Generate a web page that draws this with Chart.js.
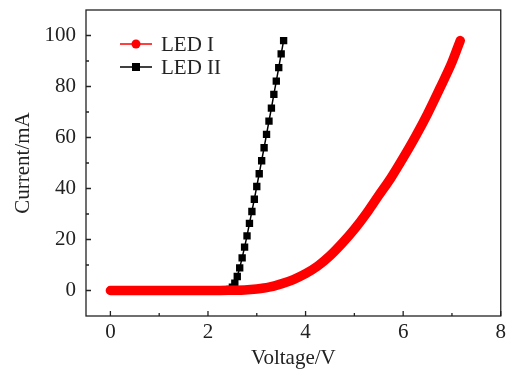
<!DOCTYPE html>
<html>
<head>
<meta charset="utf-8">
<script src="https://cdn.jsdelivr.net/npm/chart.js@4"></script>
<style>
  body { margin: 0; background: #fff; }
  canvas { display: block; }
</style>
</head>
<body>
<canvas id="ivChart" width="510" height="374"></canvas>
<script>
// LED I: tensão (V) e corrente (mA)
const led1Voltage = [0, 0.25, 0.5, 0.75, 1, 1.25, 1.5, 1.75, 2, 2.25, 2.5, 2.75, 3, 3.25, 3.5, 3.75,
  4, 4.25, 4.5, 4.75, 5, 5.25, 5.5, 5.75, 6, 6.25, 6.5, 6.75, 7, 7.17];
const led1Current = [0, 0, 0, 0, 0, 0, 0, 0, 0, 0, 0.1, 0.2, 0.6, 1.3, 2.6, 4.3,
  6.6, 9.6, 13.6, 18.5, 24.0, 30.3, 37.3, 44.2, 52, 60.3, 69.3, 79.2, 89.5, 98];

// LED II
const led2Voltage = [2.40, 2.45, 2.50, 2.55, 2.60, 2.65, 2.70, 2.75, 2.80, 2.85, 2.90, 2.95, 3.00,
  3.05, 3.10, 3.15, 3.20, 3.25, 3.30, 3.35, 3.40, 3.45, 3.50, 3.55];
const led2Current = [0, 0.4, 1.3, 2.9, 5.5, 8.9, 12.8, 17.0, 21.4, 26.3, 31.0, 35.8, 40.8,
  45.8, 50.9, 56.0, 61.2, 66.4, 71.5, 76.9, 82.1, 87.4, 92.8, 98.0];

const xTicks = [0, 2, 4, 6, 8];
const xMinorTicks = [1, 3, 5, 7];
const yTicks = [0, 20, 40, 60, 80, 100];
const yMinorTicks = [10, 30, 50, 70, 90];

const seriesNames = ['LED I', 'LED II'];

const fontFamily = '"Liberation Serif", "DejaVu Serif", serif';
const fontSize = 21;
const textColor = '#222';

function toPoints(xs, ys) {
  return xs.map((x, i) => ({ x: x, y: ys[i] }));
}

// moldura + ticks para dentro
const framePlugin = {
  id: 'frame',
  afterDraw(chart) {
    const ctx = chart.ctx;
    const a = chart.chartArea;
    const xs = chart.scales.x, ys = chart.scales.y;
    ctx.save();
    ctx.strokeStyle = '#222';
    ctx.lineWidth = 1.3;
    ctx.strokeRect(a.left, a.top, a.right - a.left, a.bottom - a.top);
    ctx.beginPath();
    xTicks.forEach(v => { const p = xs.getPixelForValue(v); ctx.moveTo(p, a.bottom); ctx.lineTo(p, a.bottom - 5); });
    xMinorTicks.forEach(v => { const p = xs.getPixelForValue(v); ctx.moveTo(p, a.bottom); ctx.lineTo(p, a.bottom - 3); });
    yTicks.forEach(v => { const p = ys.getPixelForValue(v); ctx.moveTo(a.left, p); ctx.lineTo(a.left + 5, p); });
    yMinorTicks.forEach(v => { const p = ys.getPixelForValue(v); ctx.moveTo(a.left, p); ctx.lineTo(a.left + 3, p); });
    ctx.stroke();
    ctx.restore();
  }
};

// legenda: linha + marcador + texto
const legendPlugin = {
  id: 'ivLegend',
  afterDraw(chart) {
    const ctx = chart.ctx;
    ctx.save();
    ctx.font = fontSize + 'px ' + fontFamily;
    ctx.textBaseline = 'middle';

    let y = 44;
    ctx.strokeStyle = '#ff0000';
    ctx.lineWidth = 1.5;
    ctx.beginPath(); ctx.moveTo(120, y); ctx.lineTo(152, y); ctx.stroke();
    ctx.fillStyle = '#ff0000';
    ctx.beginPath(); ctx.arc(136, y, 4.5, 0, Math.PI * 2); ctx.fill();
    ctx.fillStyle = textColor;
    ctx.fillText(seriesNames[0], 161, y + 1);

    y = 67;
    ctx.strokeStyle = '#000';
    ctx.beginPath(); ctx.moveTo(120, y); ctx.lineTo(152, y); ctx.stroke();
    ctx.fillStyle = '#000';
    ctx.fillRect(132, y - 4, 8, 8);
    ctx.fillStyle = textColor;
    ctx.fillText(seriesNames[1], 161, y + 1);
    ctx.restore();
  }
};

const ctx = document.getElementById('ivChart').getContext('2d');
const ivChart = new Chart(ctx, {
  type: 'line',
  data: {
    datasets: [{
      label: seriesNames[0],
      data: toPoints(led1Voltage, led1Current),
      borderColor: '#ff0000',
      backgroundColor: '#ff0000',
      borderWidth: 9.5,
      borderCapStyle: 'round',
      borderJoinStyle: 'round',
      cubicInterpolationMode: 'monotone',
      pointRadius: 0,
      fill: false
    }, {
      label: seriesNames[1],
      data: toPoints(led2Voltage, led2Current),
      borderColor: '#000',
      backgroundColor: '#000',
      borderWidth: 1.5,
      pointStyle: 'rect',
      pointRadius: 5.2,
      pointBorderWidth: 0,
      tension: 0,
      fill: false
    }]
  },
  options: {
    responsive: false,
    animation: false,
    devicePixelRatio: 1,
    layout: { padding: { left: 0, right: 9, top: 10, bottom: 0 } },
    plugins: {
      legend: { display: false },
      tooltip: { enabled: false }
    },
    scales: {
      x: {
        type: 'linear',
        min: -0.5,
        max: 8,
        afterBuildTicks: s => { s.ticks = xTicks.map(v => ({ value: v })); },
        afterFit: s => { s.height = 58; },
        grid: { display: false, drawTicks: false },
        border: { display: false },
        ticks: { padding: 4, color: textColor, font: { family: fontFamily, size: fontSize } },
        title: {
          display: true,
          text: 'Voltage/V',
          color: textColor,
          font: { family: fontFamily, size: fontSize },
          padding: { top: 2, bottom: 3 }
        }
      },
      y: {
        type: 'linear',
        min: -10,
        max: 110,
        afterBuildTicks: s => { s.ticks = yTicks.map(v => ({ value: v })); },
        afterFit: s => { s.width = 86; s.paddingTop = 0; s.paddingBottom = 0; },
        grid: { display: false, drawTicks: false },
        border: { display: false },
        ticks: { padding: 10, color: textColor, font: { family: fontFamily, size: fontSize } },
        title: {
          display: true,
          text: 'Current/mA',
          color: textColor,
          font: { family: fontFamily, size: fontSize },
          padding: { top: 11, bottom: 2 }
        }
      }
    }
  },
  plugins: [framePlugin, legendPlugin]
});
</script>
</body>
</html>
